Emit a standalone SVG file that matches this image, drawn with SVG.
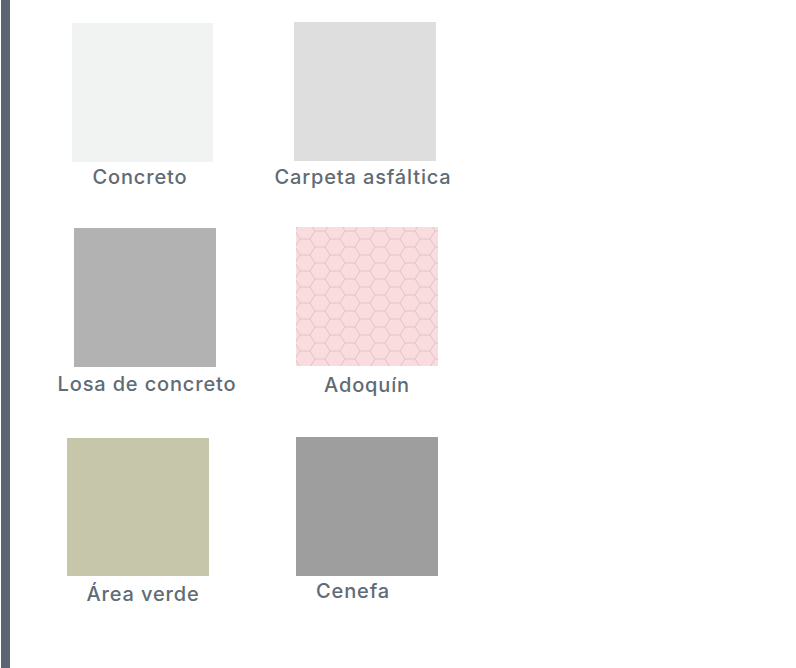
<svg xmlns="http://www.w3.org/2000/svg" width="796" height="668" viewBox="0 0 796 668">
<style>
.lbl{font-family:Inter,"Open Sans","Liberation Sans",sans-serif;font-size:20px;font-weight:500;letter-spacing:0.85px;fill:#5f6b75;text-anchor:middle}
</style>
<defs>
<pattern id="hex" patternUnits="userSpaceOnUse" x="305" y="223" width="30" height="16">
<rect width="30" height="16" fill="#fadcdf"/>
<path d="M0,0 H5 L10,8 H20 L25,0 H30 M10,8 L5,16 H0 M20,8 L25,16 H30" fill="none" stroke="#dcc6c9" stroke-width="1"/>
</pattern>
</defs>
<rect width="796" height="668" fill="#ffffff"/>
<rect id="sidebar" x="1" y="0" width="9" height="668" fill="#5b6670"/>
<g id="concreto"><rect x="72" y="23" width="141" height="139" fill="#f1f2f2"/><text class="lbl" x="140" y="184">Concreto</text></g>
<g id="carpeta"><rect x="294" y="22" width="142" height="139" fill="#dedede"/><text class="lbl" x="363" y="184">Carpeta asfáltica</text></g>
<g id="losa"><rect x="74" y="228" width="142" height="139" fill="#b2b2b2"/><text class="lbl" x="147" y="391">Losa de concreto</text></g>
<g id="adoquin"><rect x="296" y="227" width="142" height="139" fill="url(#hex)"/><text class="lbl" x="367" y="392">Adoquín</text></g>
<g id="area-verde"><rect x="67" y="438" width="142" height="138" fill="#c6c6aa"/><text class="lbl" x="143" y="601">Área verde</text></g>
<g id="cenefa"><rect x="296" y="437" width="142" height="139" fill="#9e9e9e"/><text class="lbl" x="353" y="598">Cenefa</text></g>
</svg>
